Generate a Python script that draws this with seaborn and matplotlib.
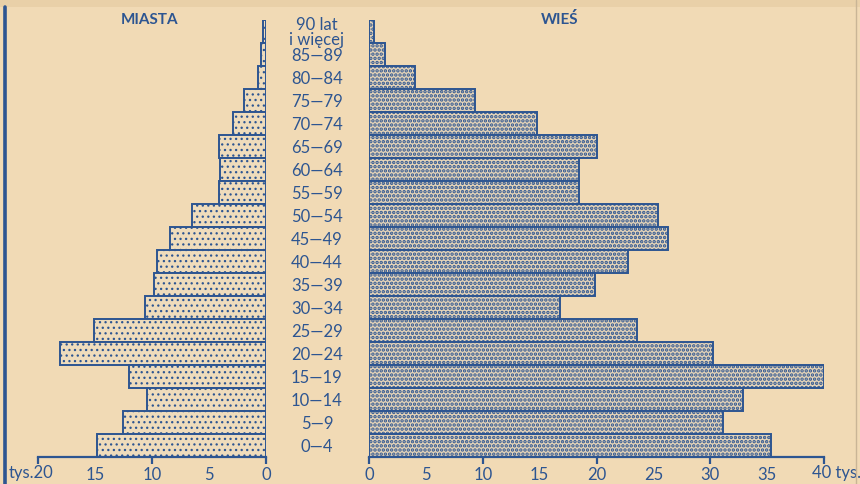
import matplotlib
matplotlib.use("Agg")
import matplotlib.pyplot as plt
import seaborn as sns
import pandas as pd
from matplotlib.lines import Line2D
from matplotlib.patches import Rectangle

# ---- data ----
age_groups = ["90+", "85-89", "80-84", "75-79", "70-74", "65-69", "60-64", "55-59",
              "50-54", "45-49", "40-44", "35-39", "30-34", "25-29", "20-24", "15-19",
              "10-14", "5-9", "0-4"]
age_labels = ["90 lat\ni więcej", "85—89", "80—84", "75—79", "70—74", "65—69", "60—64",
              "55—59", "50—54", "45—49", "40—44", "35—39", "30—34", "25—29", "20—24",
              "15—19", "10—14", "5—9", "0—4"]
miasta = [0.25, 0.4, 0.7, 1.9, 2.9, 4.1, 4.0, 4.1, 6.5, 8.4, 9.6, 9.8, 10.6, 15.1,
          18.1, 12.0, 10.4, 12.5, 14.8]
wies = [0.4, 1.4, 4.0, 9.3, 14.8, 20.0, 18.5, 18.5, 25.4, 26.3, 22.8, 19.9, 16.8,
        23.6, 30.2, 40.0, 32.9, 31.1, 35.3]
left_ticks = [20, 15, 10, 5, 0]
left_ticklabels = ["", "15", "10", "5", "0"]
right_ticks = [0, 5, 10, 15, 20, 25, 30, 35, 40]
right_ticklabels = ["0", "5", "10", "15", "20", "25", "30", "35", ""]

BG = "#f1dab5"
BLUE = "#2d5591"

sns.set_theme(style="white")
plt.rcParams["font.family"] = ["Lato", "DejaVu Sans"]

df_m = pd.DataFrame({"age": age_groups, "val": miasta})
df_w = pd.DataFrame({"age": age_groups, "val": wies})

fig = plt.figure(figsize=(8.6, 4.84), dpi=100, facecolor=BG)
W, H = 860, 484
y_top, y_bot = 20, 457

# slightly darker paper strip at the top
fig.add_artist(Rectangle((0, 1 - 7 / H), 1, 7 / H, transform=fig.transFigure,
                         facecolor="#e9d0a8", edgecolor="none", zorder=0))


def axrect(x0, x1):
    return [x0 / W, (H - y_bot) / H, (x1 - x0) / W, (y_bot - y_top) / H]


axL = fig.add_axes(axrect(38, 266))
axR = fig.add_axes(axrect(369, 824))

for ax, df, hatch, hlw, fc in [(axL, df_m, "...", 0.9, "#efdcbc"),
                               (axR, df_w, "....", 1.7, "#e4d3b8")]:
    with plt.rc_context({"hatch.linewidth": hlw, "hatch.color": BLUE}):
        sns.barplot(data=df, x="val", y="age", order=age_groups, orient="h",
                    color=fc, width=1.0, edgecolor=BLUE, linewidth=1.4,
                    saturation=1, ax=ax)
        for p in ax.patches:
            p.set_hatch(hatch)
            p.set_facecolor(fc)
            p.set_edgecolor(BLUE)
            if hasattr(p, "set_hatch_linewidth"):
                p.set_hatch_linewidth(hlw)
    ax.set_facecolor("none")
    ax.set_ylim(18.5, -0.5)
    ax.set_xlabel("")
    ax.set_ylabel("")
    for s in ["top", "right", "left"]:
        ax.spines[s].set_visible(False)
    ax.spines["bottom"].set_color(BLUE)
    ax.spines["bottom"].set_linewidth(1.6)

axL.set_xlim(20, 0)
axR.set_xlim(0, 40)
axL.set_yticks([])

# x ticks
for ax, ticks, labels in [(axL, left_ticks, left_ticklabels),
                          (axR, right_ticks, right_ticklabels)]:
    ax.set_xticks(ticks)
    ax.set_xticklabels(labels)
    ax.tick_params(axis="x", direction="out", length=5, width=1.6, color=BLUE,
                   labelcolor=BLUE, labelsize=12, pad=2, bottom=True)
    for t, tk in zip(ticks, ax.xaxis.get_major_ticks()):
        if t % 10 != 0:
            tk.tick1line.set_visible(False)

# end labels with the unit, shifted like in the original print
axL.annotate("tys.20", xy=(left_ticks[0], 0), xycoords=("data", "axes fraction"),
             xytext=(11.0, -5.6), textcoords="offset points", ha="right", va="top",
             color=BLUE, fontsize=12)
axR.annotate("40 tys.", xy=(right_ticks[-1], 0), xycoords=("data", "axes fraction"),
             xytext=(-8.6, -5.6), textcoords="offset points", ha="left", va="top",
             color=BLUE, fontsize=12)

# age labels as y tick labels of the right axes, centred between the panels
axR.set_yticks(range(len(age_labels)))
axR.set_yticklabels(age_labels)
axR.tick_params(axis="y", length=0, pad=37.5, labelsize=12, labelcolor=BLUE, left=False)
for lab in axR.get_yticklabels():
    lab.set_horizontalalignment("center")
    lab.set_linespacing(0.95)

# panel titles
fig.text(150 / W, 1 - 20 / H, "MIASTA", ha="center", va="center", color=BLUE,
         fontsize=11, fontweight="bold")
fig.text(560 / W, 1 - 19 / H, "WIEŚ", ha="center", va="center", color=BLUE,
         fontsize=11, fontweight="bold")

# page frame lines
fig.add_artist(Line2D([5 / W, 5 / W], [0, 1 - 7 / H], color=BLUE, lw=2.6,
                      transform=fig.transFigure))
fig.add_artist(Line2D([856 / W, 856 / W], [0, 1], color="#c9b596", lw=1.0,
                      transform=fig.transFigure))

fig.savefig("out.png", dpi=100, facecolor=BG)
